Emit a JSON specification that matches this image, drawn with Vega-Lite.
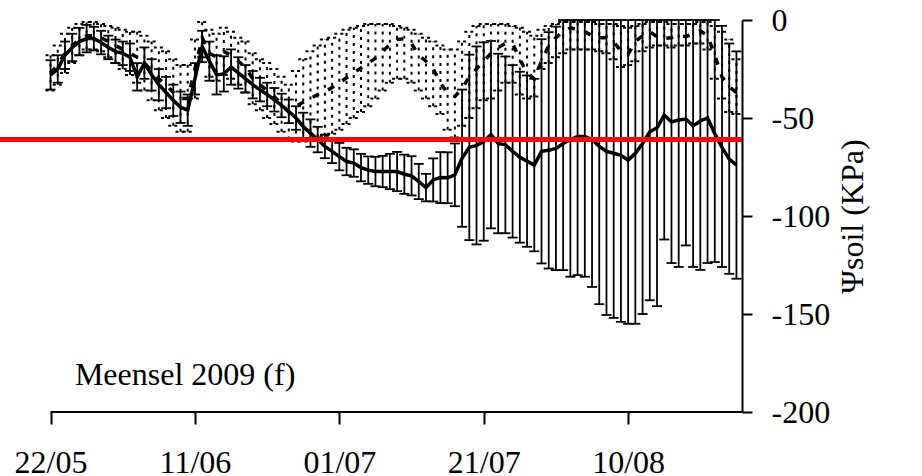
{
  "$schema": "https://vega.github.io/schema/vega-lite/v6.json",
  "width": 742,
  "height": 392,
  "autosize": {"type": "none"},
  "padding": {"left": 0, "top": 20, "right": 180, "bottom": 64},
  "background": "white",
  "config": {
    "view": {"stroke": null},
    "style": {"guide-label": {"font": "Liberation Serif", "fontSize": 32, "fill": "black"}, "guide-title": {"font": "Liberation Serif", "fontSize": 32, "fontWeight": "normal", "fill": "black"}},
    "axis": {
      "labelColor": "black",
      "titleColor": "black",
      "tickColor": "black",
      "domainColor": "black",
      "grid": false,
      "tickWidth": 2,
      "domainWidth": 2,
      "labelFlush": false,
      "labelOverlap": false
    },
    "axisY": {"tickSize": 10, "labelPadding": 19, "titlePadding": 8, "titleAngle": 270, "titleBaseline": "top", "labelExpr": "replace(datum.label, '\u2212', '-')"},
    "axisX": {"tickSize": 12, "labelPadding": 23, "domain": false}
  },
  "datasets": {
    "series": [
      {"d":"2009-05-22","m1":-28,"lo1":-35.5,"hi1":-20.5,"m2":-27,"lo2":-36,"hi2":-18},
      {"d":"2009-05-23","m1":-25,"lo1":-32,"hi1":-18,"m2":-23,"lo2":-33,"hi2":-13},
      {"d":"2009-05-24","m1":-18,"lo1":-25,"hi1":-11,"m2":-17,"lo2":-27,"hi2":-7},
      {"d":"2009-05-25","m1":-14,"lo1":-21,"hi1":-7,"m2":-13,"lo2":-22,"hi2":-4},
      {"d":"2009-05-26","m1":-11,"lo1":-18,"hi1":-4,"m2":-10,"lo2":-18,"hi2":-2},
      {"d":"2009-05-27","m1":-9.5,"lo1":-16.5,"hi1":-2.5,"m2":-8,"lo2":-15,"hi2":-1},
      {"d":"2009-05-28","m1":-9.5,"lo1":-15.5,"hi1":-3.5,"m2":-8,"lo2":-15,"hi2":-1},
      {"d":"2009-05-29","m1":-11.5,"lo1":-17.5,"hi1":-5.5,"m2":-9,"lo2":-16,"hi2":-2},
      {"d":"2009-05-30","m1":-14,"lo1":-20,"hi1":-8,"m2":-11,"lo2":-19,"hi2":-3},
      {"d":"2009-05-31","m1":-16,"lo1":-22,"hi1":-10,"m2":-13,"lo2":-22,"hi2":-4},
      {"d":"2009-06-01","m1":-17,"lo1":-23,"hi1":-11,"m2":-15,"lo2":-25,"hi2":-5},
      {"d":"2009-06-02","m1":-19,"lo1":-26,"hi1":-12,"m2":-17,"lo2":-28,"hi2":-6},
      {"d":"2009-06-03","m1":-29,"lo1":-36,"hi1":-22,"m2":-19,"lo2":-32,"hi2":-6},
      {"d":"2009-06-04","m1":-22,"lo1":-30,"hi1":-14,"m2":-22,"lo2":-36,"hi2":-8},
      {"d":"2009-06-05","m1":-28,"lo1":-36,"hi1":-20,"m2":-26,"lo2":-41,"hi2":-11},
      {"d":"2009-06-06","m1":-33,"lo1":-41,"hi1":-25,"m2":-30,"lo2":-46,"hi2":-14},
      {"d":"2009-06-07","m1":-37,"lo1":-45,"hi1":-29,"m2":-33,"lo2":-50,"hi2":-16},
      {"d":"2009-06-08","m1":-41,"lo1":-49,"hi1":-33,"m2":-37,"lo2":-54,"hi2":-20},
      {"d":"2009-06-09","m1":-44.5,"lo1":-52.5,"hi1":-36.5,"m2":-40,"lo2":-57,"hi2":-23},
      {"d":"2009-06-10","m1":-46,"lo1":-54,"hi1":-38,"m2":-40,"lo2":-57,"hi2":-23},
      {"d":"2009-06-11","m1":-30,"lo1":-38,"hi1":-22,"m2":-25,"lo2":-40,"hi2":-10},
      {"d":"2009-06-12","m1":-13.5,"lo1":-21.5,"hi1":-5.5,"m2":-9,"lo2":-19,"hi2":-1},
      {"d":"2009-06-13","m1":-21,"lo1":-31,"hi1":-11,"m2":-17,"lo2":-29,"hi2":-5},
      {"d":"2009-06-14","m1":-28,"lo1":-38,"hi1":-18,"m2":-19,"lo2":-31,"hi2":-7},
      {"d":"2009-06-15","m1":-27.5,"lo1":-36.5,"hi1":-18.5,"m2":-16,"lo2":-28,"hi2":-4},
      {"d":"2009-06-16","m1":-24,"lo1":-33,"hi1":-15,"m2":-18,"lo2":-30,"hi2":-6},
      {"d":"2009-06-17","m1":-27,"lo1":-35,"hi1":-19,"m2":-21,"lo2":-33,"hi2":-9},
      {"d":"2009-06-18","m1":-30,"lo1":-37,"hi1":-23,"m2":-24,"lo2":-37,"hi2":-11},
      {"d":"2009-06-19","m1":-33,"lo1":-40,"hi1":-26,"m2":-30,"lo2":-43,"hi2":-17},
      {"d":"2009-06-20","m1":-35.5,"lo1":-41.5,"hi1":-29.5,"m2":-33,"lo2":-46,"hi2":-20},
      {"d":"2009-06-21","m1":-38,"lo1":-44,"hi1":-32,"m2":-36,"lo2":-50,"hi2":-22},
      {"d":"2009-06-22","m1":-40.7,"lo1":-46.7,"hi1":-34.7,"m2":-39,"lo2":-53,"hi2":-25},
      {"d":"2009-06-23","m1":-43.6,"lo1":-49.6,"hi1":-37.6,"m2":-43,"lo2":-57,"hi2":-29},
      {"d":"2009-06-24","m1":-46.6,"lo1":-52.6,"hi1":-40.6,"m2":-47,"lo2":-61,"hi2":-33},
      {"d":"2009-06-25","m1":-50,"lo1":-56,"hi1":-44,"m2":-44,"lo2":-62,"hi2":-26},
      {"d":"2009-06-26","m1":-54.3,"lo1":-61.3,"hi1":-47.3,"m2":-42,"lo2":-62,"hi2":-20},
      {"d":"2009-06-27","m1":-57.7,"lo1":-64.7,"hi1":-50.7,"m2":-40,"lo2":-61,"hi2":-16},
      {"d":"2009-06-28","m1":-61,"lo1":-67.5,"hi1":-54.5,"m2":-38,"lo2":-60,"hi2":-13},
      {"d":"2009-06-29","m1":-64.5,"lo1":-70.5,"hi1":-58.5,"m2":-36.5,"lo2":-59,"hi2":-10},
      {"d":"2009-06-30","m1":-67,"lo1":-73,"hi1":-61,"m2":-34.5,"lo2":-58,"hi2":-9},
      {"d":"2009-07-01","m1":-69.7,"lo1":-76.7,"hi1":-62.7,"m2":-32,"lo2":-56,"hi2":-7},
      {"d":"2009-07-02","m1":-72.2,"lo1":-79.2,"hi1":-65.2,"m2":-29.5,"lo2":-53,"hi2":-5},
      {"d":"2009-07-03","m1":-73,"lo1":-80,"hi1":-66,"m2":-27,"lo2":-50,"hi2":-4},
      {"d":"2009-07-04","m1":-75.3,"lo1":-82.3,"hi1":-68.3,"m2":-24.5,"lo2":-47,"hi2":-3},
      {"d":"2009-07-05","m1":-76.6,"lo1":-83.6,"hi1":-69.6,"m2":-22,"lo2":-44,"hi2":-2},
      {"d":"2009-07-06","m1":-77.3,"lo1":-84.8,"hi1":-69.8,"m2":-19.5,"lo2":-40,"hi2":-2},
      {"d":"2009-07-07","m1":-77.3,"lo1":-85.3,"hi1":-69.3,"m2":-16,"lo2":-36,"hi2":-2},
      {"d":"2009-07-08","m1":-77.3,"lo1":-86.3,"hi1":-68.3,"m2":-12.5,"lo2":-32,"hi2":-2},
      {"d":"2009-07-09","m1":-77.3,"lo1":-87.3,"hi1":-67.3,"m2":-10,"lo2":-30,"hi2":-3},
      {"d":"2009-07-10","m1":-78.7,"lo1":-88.7,"hi1":-68.7,"m2":-9.5,"lo2":-30,"hi2":-4},
      {"d":"2009-07-11","m1":-79.5,"lo1":-89.5,"hi1":-69.5,"m2":-12,"lo2":-32,"hi2":-5},
      {"d":"2009-07-12","m1":-82.4,"lo1":-91.4,"hi1":-73.4,"m2":-18,"lo2":-36,"hi2":-7},
      {"d":"2009-07-13","m1":-85.5,"lo1":-92.5,"hi1":-78.5,"m2":-21,"lo2":-40,"hi2":-9},
      {"d":"2009-07-14","m1":-81.6,"lo1":-92.6,"hi1":-70.6,"m2":-25,"lo2":-44,"hi2":-11},
      {"d":"2009-07-15","m1":-80.4,"lo1":-93.4,"hi1":-67.4,"m2":-32,"lo2":-48,"hi2":-13},
      {"d":"2009-07-16","m1":-80.5,"lo1":-93.5,"hi1":-67.5,"m2":-37.5,"lo2":-56,"hi2":-15},
      {"d":"2009-07-17","m1":-79,"lo1":-95,"hi1":-63,"m2":-39,"lo2":-60,"hi2":-15},
      {"d":"2009-07-18","m1":-70.5,"lo1":-105.5,"hi1":-35.5,"m2":-35,"lo2":-54,"hi2":-11},
      {"d":"2009-07-19","m1":-65,"lo1":-112.3,"hi1":-17.7,"m2":-29,"lo2":-50,"hi2":-6},
      {"d":"2009-07-20","m1":-64,"lo1":-114.5,"hi1":-13.5,"m2":-25,"lo2":-45,"hi2":-3},
      {"d":"2009-07-21","m1":-62,"lo1":-112.6,"hi1":-11.4,"m2":-21,"lo2":-41,"hi2":-2},
      {"d":"2009-07-22","m1":-58.5,"lo1":-106.3,"hi1":-10.7,"m2":-17,"lo2":-40,"hi2":-2},
      {"d":"2009-07-23","m1":-63,"lo1":-108.8,"hi1":-17.2,"m2":-14,"lo2":-36,"hi2":-2},
      {"d":"2009-07-24","m1":-63.7,"lo1":-108.8,"hi1":-18.6,"m2":-12,"lo2":-32,"hi2":-2},
      {"d":"2009-07-25","m1":-67,"lo1":-111,"hi1":-23,"m2":-12,"lo2":-32,"hi2":-3},
      {"d":"2009-07-26","m1":-70,"lo1":-113.6,"hi1":-26.4,"m2":-20,"lo2":-38,"hi2":-4},
      {"d":"2009-07-27","m1":-72,"lo1":-115.7,"hi1":-28.3,"m2":-27,"lo2":-40,"hi2":-6},
      {"d":"2009-07-28","m1":-74,"lo1":-118,"hi1":-30,"m2":-30,"lo2":-39,"hi2":-8},
      {"d":"2009-07-29","m1":-67,"lo1":-124.2,"hi1":-9.8,"m2":-21,"lo2":-25,"hi2":-5},
      {"d":"2009-07-30","m1":-66.5,"lo1":-126.8,"hi1":-6.2,"m2":-13,"lo2":-22,"hi2":-3},
      {"d":"2009-07-31","m1":-65.5,"lo1":-127.6,"hi1":-3.4,"m2":-9,"lo2":-19,"hi2":-2},
      {"d":"2009-08-01","m1":-63,"lo1":-127.6,"hi1":0,"m2":-6,"lo2":-17,"hi2":-1},
      {"d":"2009-08-02","m1":-61,"lo1":-131,"hi1":0,"m2":-4,"lo2":-15,"hi2":-1},
      {"d":"2009-08-03","m1":-59.5,"lo1":-130.2,"hi1":0,"m2":-5,"lo2":-15,"hi2":-1},
      {"d":"2009-08-04","m1":-59.5,"lo1":-131,"hi1":0,"m2":-6,"lo2":-15,"hi2":-1},
      {"d":"2009-08-05","m1":-61,"lo1":-136.2,"hi1":0,"m2":-8,"lo2":-15,"hi2":-1},
      {"d":"2009-08-06","m1":-64.5,"lo1":-145,"hi1":0,"m2":-9,"lo2":-16,"hi2":-2},
      {"d":"2009-08-07","m1":-67,"lo1":-150.5,"hi1":0,"m2":-9,"lo2":-17,"hi2":-2},
      {"d":"2009-08-08","m1":-68,"lo1":-152,"hi1":0,"m2":-11,"lo2":-20,"hi2":-2},
      {"d":"2009-08-09","m1":-69,"lo1":-154,"hi1":0,"m2":-16,"lo2":-24,"hi2":-3},
      {"d":"2009-08-10","m1":-71.5,"lo1":-155,"hi1":0,"m2":-17.5,"lo2":-23,"hi2":-4},
      {"d":"2009-08-11","m1":-68,"lo1":-155,"hi1":0,"m2":-11,"lo2":-21,"hi2":-3},
      {"d":"2009-08-12","m1":-63,"lo1":-150,"hi1":0,"m2":-8,"lo2":-16,"hi2":-2},
      {"d":"2009-08-13","m1":-57,"lo1":-143,"hi1":0,"m2":-6,"lo2":-14,"hi2":-1},
      {"d":"2009-08-14","m1":-55,"lo1":-146,"hi1":0,"m2":-8.5,"lo2":-13,"hi2":-1},
      {"d":"2009-08-15","m1":-48.5,"lo1":-112,"hi1":0,"m2":-9.5,"lo2":-13,"hi2":-1},
      {"d":"2009-08-16","m1":-52,"lo1":-124,"hi1":0,"m2":-9,"lo2":-14,"hi2":-2},
      {"d":"2009-08-17","m1":-51,"lo1":-126,"hi1":0,"m2":-8,"lo2":-13,"hi2":-2},
      {"d":"2009-08-18","m1":-50.5,"lo1":-115,"hi1":0,"m2":-8.5,"lo2":-13,"hi2":-2},
      {"d":"2009-08-19","m1":-54,"lo1":-126,"hi1":0,"m2":-7,"lo2":-12,"hi2":-2},
      {"d":"2009-08-20","m1":-51.5,"lo1":-127.5,"hi1":0,"m2":-5.5,"lo2":-12,"hi2":-1},
      {"d":"2009-08-21","m1":-50,"lo1":-124,"hi1":0,"m2":-8,"lo2":-15,"hi2":-1},
      {"d":"2009-08-22","m1":-58,"lo1":-123.5,"hi1":0,"m2":-18,"lo2":-30,"hi2":-3},
      {"d":"2009-08-23","m1":-65,"lo1":-126,"hi1":-3,"m2":-29,"lo2":-40,"hi2":-6},
      {"d":"2009-08-24","m1":-71,"lo1":-129.5,"hi1":-12,"m2":-34,"lo2":-47,"hi2":-10},
      {"d":"2009-08-25","m1":-74,"lo1":-132,"hi1":-16,"m2":-37,"lo2":-48,"hi2":-20}
    ]
  },
  "layer": [
    {
      "data": {"name": "series"},
      "encoding": {
        "x": {"field": "d", "type": "temporal",
          "scale": {"type": "utc", "domain": [{"year": 2009, "month": 5, "date": 15, "utc": true}, {"year": 2009, "month": 8, "date": 25, "hours": 18, "minutes": 30, "utc": true}]},
          "axis": {"title": null, "format": "%d/%m",
            "values": [{"year": 2009, "month": 5, "date": 22, "utc": true}, {"year": 2009, "month": 6, "date": 11, "utc": true}, {"year": 2009, "month": 7, "date": 1, "utc": true}, {"year": 2009, "month": 7, "date": 21, "utc": true}, {"year": 2009, "month": 8, "date": 10, "utc": true}]}}
      },
      "layer": [
        {"mark": {"type": "rule", "color": "black", "strokeWidth": 2, "strokeDash": [3, 5]},
         "encoding": {"y": {"field": "lo2", "type": "quantitative", "scale": {"domain": [-200, 0], "nice": false}, "axis": {"orient": "right", "title": "Ψsoil (KPa)", "values": [0, -50, -100, -150, -200]}}, "y2": {"field": "hi2"}}},
        {"mark": {"type": "point", "shape": "stroke", "size": 100, "filled": false, "opacity": 1, "color": "black", "strokeWidth": 2, "strokeDash": [3, 3]},
         "encoding": {"y": {"field": "lo2", "type": "quantitative", "scale": {"domain": [-200, 0], "nice": false}}}},
        {"mark": {"type": "point", "shape": "stroke", "size": 100, "filled": false, "opacity": 1, "color": "black", "strokeWidth": 2, "strokeDash": [3, 3]},
         "encoding": {"y": {"field": "hi2", "type": "quantitative", "scale": {"domain": [-200, 0], "nice": false}}}},
        {"mark": {"type": "rule", "color": "black", "strokeWidth": 1.8},
         "encoding": {"y": {"field": "lo1", "type": "quantitative", "scale": {"domain": [-200, 0], "nice": false}}, "y2": {"field": "hi1"}}},
        {"mark": {"type": "point", "shape": "stroke", "size": 100, "filled": false, "opacity": 1, "color": "black", "strokeWidth": 1.8},
         "encoding": {"y": {"field": "lo1", "type": "quantitative", "scale": {"domain": [-200, 0], "nice": false}}}},
        {"mark": {"type": "point", "shape": "stroke", "size": 100, "filled": false, "opacity": 1, "color": "black", "strokeWidth": 1.8},
         "encoding": {"y": {"field": "hi1", "type": "quantitative", "scale": {"domain": [-200, 0], "nice": false}}}},
        {"mark": {"type": "line", "color": "black", "strokeWidth": 3.5, "strokeDash": [7, 10]},
         "encoding": {"y": {"field": "m2", "type": "quantitative", "scale": {"domain": [-200, 0], "nice": false}}}},
        {"mark": {"type": "line", "color": "black", "strokeWidth": 3.5},
         "encoding": {"y": {"field": "m1", "type": "quantitative", "scale": {"domain": [-200, 0], "nice": false}}}}
      ]
    },
    {
      "data": {"values": [{"level": -61}]},
      "mark": {"type": "rule", "color": "#ff0000", "strokeWidth": 5},
      "encoding": {"y": {"field": "level", "type": "quantitative", "scale": {"domain": [-200, 0], "nice": false}}}
    },
    {
      "data": {"values": [{"d": "2009-05-25T09:00:00Z", "v": -186, "label": "Meensel 2009 (f)"}]},
      "mark": {"type": "text", "align": "left", "baseline": "alphabetic", "font": "Liberation Serif", "fontSize": 32, "color": "black"},
      "encoding": {
        "x": {"field": "d", "type": "temporal", "scale": {"type": "utc", "domain": [{"year": 2009, "month": 5, "date": 15, "utc": true}, {"year": 2009, "month": 8, "date": 25, "hours": 18, "minutes": 30, "utc": true}]}},
        "y": {"field": "v", "type": "quantitative", "scale": {"domain": [-200, 0], "nice": false}},
        "text": {"field": "label"}
      }
    },
    {
      "data": {"values": [{"d": "2009-05-22", "d2": "2009-08-25T18:30:00Z", "v": -200}]},
      "mark": {"type": "rule", "color": "black", "strokeWidth": 2},
      "encoding": {
        "x": {"field": "d", "type": "temporal", "scale": {"type": "utc", "domain": [{"year": 2009, "month": 5, "date": 15, "utc": true}, {"year": 2009, "month": 8, "date": 25, "hours": 18, "minutes": 30, "utc": true}]}},
        "x2": {"field": "d2"},
        "y": {"field": "v", "type": "quantitative", "scale": {"domain": [-200, 0], "nice": false}}
      }
    }
  ]
}
